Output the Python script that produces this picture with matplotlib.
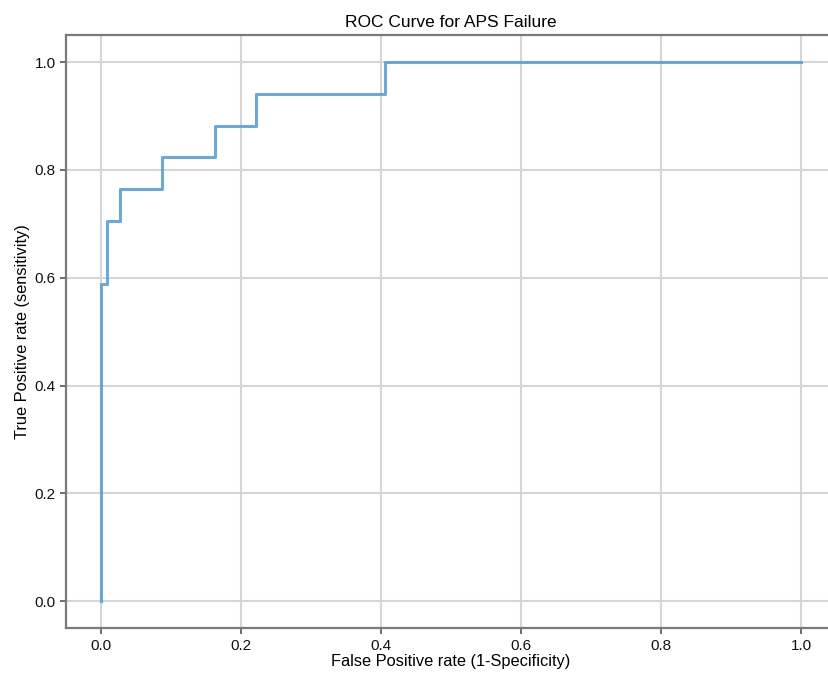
import matplotlib
matplotlib.use("Agg")
import matplotlib.pyplot as plt

# ROC points
fpr = [0.0, 0.0, 0.008, 0.008, 0.027, 0.027, 0.087, 0.087, 0.163, 0.163, 0.222, 0.222, 0.405, 0.405, 1.0]
tpr = [0.0, 0.588, 0.588, 0.706, 0.706, 0.765, 0.765, 0.824, 0.824, 0.882, 0.882, 0.941, 0.941, 1.0, 1.0]
xticks = [0.0, 0.2, 0.4, 0.6, 0.8, 1.0]
yticks = [0.0, 0.2, 0.4, 0.6, 0.8, 1.0]

plt.rcParams['font.family'] = ['Liberation Sans', 'DejaVu Sans']

fig = plt.figure(figsize=(8.29, 6.74), dpi=100)
ax = fig.add_axes([0.0796, 0.068, 0.929, 0.880])

ax.plot(fpr, tpr, color='#5d9fd3', linewidth=2.2, alpha=0.9)

ax.set_xticks(xticks)
ax.set_yticks(yticks)
ax.grid(True, color='#d6d6d6', linewidth=1.5)
ax.set_axisbelow(True)
for s in ax.spines.values():
    s.set_color('#7a7a7a')
    s.set_linewidth(1.6)
ax.tick_params(colors='#555555', labelcolor='#111111', labelsize=11, length=4, width=1.2)

ax.set_title("ROC Curve for APS Failure", fontsize=12.5, pad=6)
ax.set_xlabel("False Positive rate (1-Specificity)", fontsize=11.8, labelpad=1)
ax.set_ylabel("True Positive rate (sensitivity)", fontsize=11.8, labelpad=3)

fig.savefig("out.png", dpi=100)
